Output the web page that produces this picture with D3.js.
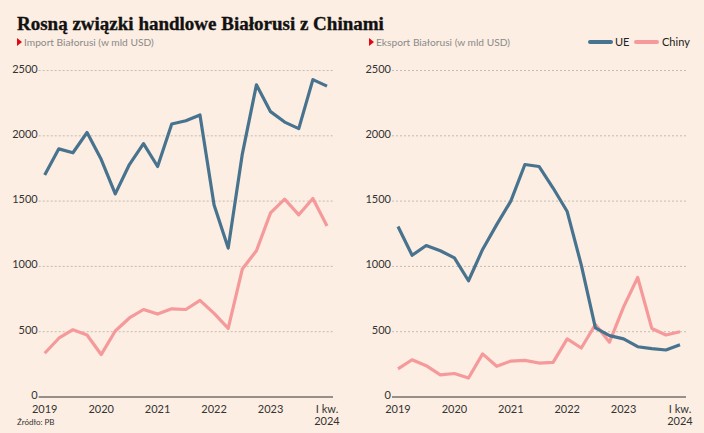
<!DOCTYPE html>
<html><head><meta charset="utf-8">
<script src="https://cdn.jsdelivr.net/npm/d3@7"></script>
<style>
html,body{margin:0;padding:0;background:#FCEEE2;}
svg{display:block;}
text{font-family:Lato,"Open Sans",sans-serif;}
</style></head>
<body>
<script>
const quarters = ["2019Q1","2019Q2","2019Q3","2019Q4","2020Q1","2020Q2","2020Q3","2020Q4","2021Q1","2021Q2","2021Q3","2021Q4","2022Q1","2022Q2","2022Q3","2022Q4","2023Q1","2023Q2","2023Q3","2023Q4","2024Q1"];
const importUE = [1700,1900,1870,2025,1820,1555,1780,1940,1765,2090,2115,2160,1470,1140,1860,2390,2185,2105,2055,2430,2380];
const importChiny = [335,450,515,475,325,505,605,670,635,675,670,740,640,525,980,1120,1410,1515,1395,1520,1310];
const exportUE = [1305,1085,1160,1120,1065,890,1130,1320,1500,1780,1765,1600,1420,1010,530,470,445,385,370,360,400];
const exportChiny = [215,285,240,170,180,145,330,235,275,280,260,265,445,375,555,420,690,915,525,475,500];
const yTicks = [0,500,1000,1500,2000,2500];
const xTickLabels = [["2019"],["2020"],["2021"],["2022"],["2023"],["I kw.","2024"]];
const xTickIdx = [0,4,8,12,16,20];
const seriesNames = ["UE","Chiny"];
const colors = {UE:"#48738F", Chiny:"#F5999B"};

const W=704,H=433;
const svg = d3.select("body").append("svg").attr("width",W).attr("height",H);
svg.append("rect").attr("width",W).attr("height",H).attr("fill","#FCEEE2");

// Title
const title = svg.append("text").attr("x",17).attr("y",30)
  .style("font-family","'Liberation Serif','DejaVu Serif',serif")
  .attr("font-weight","bold").attr("font-size",21).attr("fill","#111")
  .attr("stroke","#111").attr("stroke-width",0.35)
  .text("Rosną związki handlowe Białorusi z Chinami");
const tw = title.node().getComputedTextLength();
title.attr("font-size", 21*367/tw);

function panel(ox, x0, x1, subtitle, ueData, chData){
  const y = d3.scaleLinear().domain([0,2500]).range([397,70.5]);
  const x = d3.scaleLinear().domain([0,20]).range([x0,x1]);
  const g = svg.append("g");
  // subtitle
  g.append("path").attr("d",`M${ox},${38} L${ox+5},${42} L${ox},${46} Z`).attr("fill","#E30613");
  g.append("text").attr("x",ox+7).attr("y",46).attr("font-size",10.2).attr("fill","#8a8a8a").text(subtitle);
  // gridlines
  const gl = x0-6, gr = x1+6;
  g.selectAll(".grid").data(yTicks.filter(d=>d>0)).join("line")
    .attr("x1",gl).attr("x2",gr).attr("y1",d=>y(d)).attr("y2",d=>y(d))
    .attr("stroke","#b9aea6").attr("stroke-width",0.8).attr("stroke-dasharray","2,2");
  g.append("line").attr("x1",gl).attr("x2",gr).attr("y1",y(0)).attr("y2",y(0))
    .attr("stroke","#333").attr("stroke-width",1);
  g.selectAll(".yl").data(yTicks).join("text")
    .attr("x",gl-1).attr("y",d=>y(d)+2).attr("text-anchor","end")
    .attr("font-size",11).attr("fill","#333").text(d=>d);
  // x labels
  xTickIdx.forEach((qi,i)=>{
    xTickLabels[i].forEach((s,j)=>{
      g.append("text").attr("x",x(qi)).attr("y",413+j*11.5).attr("text-anchor","middle")
        .attr("font-size",11).attr("fill","#333").text(s);
    });
  });
  const line = d3.line().x((d,i)=>x(i)).y(d=>y(d));
  g.append("path").datum(chData).attr("d",line).attr("fill","none")
    .attr("stroke",colors.Chiny).attr("stroke-width",3.2).attr("stroke-linejoin","round");
  g.append("path").datum(ueData).attr("d",line).attr("fill","none")
    .attr("stroke",colors.UE).attr("stroke-width",3.2).attr("stroke-linejoin","round");
}
panel(17, 44.7, 327, "Import Białorusi (w mld USD)", importUE, importChiny);
panel(369, 398, 680, "Eksport Białorusi (w mld USD)", exportUE, exportChiny);

// legend
const leg = svg.append("g");
const legPos = [{x:590,tx:615},{x:636,tx:662}];
seriesNames.forEach((n,i)=>{
  leg.append("line").attr("x1",legPos[i].x).attr("x2",legPos[i].x+21).attr("y1",42).attr("y2",42)
    .attr("stroke",colors[n]).attr("stroke-width",4).attr("stroke-linecap","round");
  leg.append("text").attr("x",legPos[i].tx).attr("y",46).attr("font-size",11).attr("fill","#222").text(n);
});

svg.append("text").attr("x",17).attr("y",425).attr("font-size",8).attr("fill","#333").text("Źródło: PB");
</script>
</body></html>
